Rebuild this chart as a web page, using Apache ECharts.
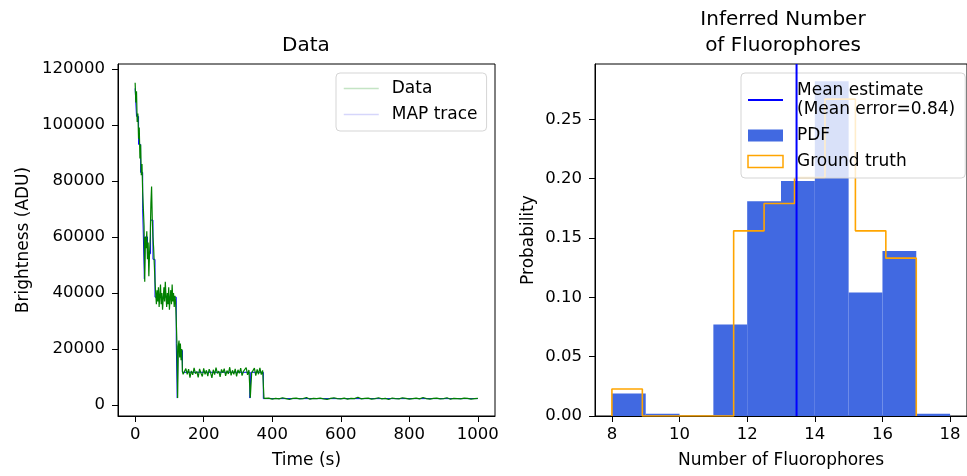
<!DOCTYPE html>
<html>
<head>
<meta charset="utf-8">
<script src="https://cdn.jsdelivr.net/npm/echarts@6/dist/echarts.min.js"></script>
<style>
  html, body { margin: 0; padding: 0; background: #fff; }
  #chart { width: 967px; height: 476px; }
</style>
</head>
<body>
<div id="chart"></div>
<script>
// brightness trace (ADU)
// t = 0..140 s, every 2 s
const traceEarly = [115000, 108000, 112000, 101000, 104000, 95000, 99000, 88000, 93000, 82000,
  86000, 76000, 70000, 64000, 44000, 60000, 56000, 62000, 52000, 58000,
  46000, 54000, 60000, 72000, 78000, 66000, 60000, 56000, 50000, 44000,
  40000, 36000, 41000, 37000, 42000, 35000, 39000, 43000, 36000, 40000,
  34000, 38000, 42000, 37000, 44000, 39000, 35000, 40000, 36000, 42000,
  34000, 38000, 41000, 36000, 43000, 37000, 40000, 35000, 39000, 37000,
  30000, 22000, 2500, 21000, 23000, 17000, 22000, 16000, 20000, 12000, 11000];
// t = 144..376 s, every 4 s
const tracePlateau = [10500, 13000, 11000, 12800, 9800, 12200, 10800, 13300, 11200, 12000,
  9900, 12900, 11400, 10200, 13100, 11000, 12400, 10300, 12800, 11600,
  9700, 12600, 10900, 13400, 11300, 12100, 10100, 12700, 11500, 13000,
  10400, 12300, 11100, 13500, 10600, 12400, 11000, 12900, 10200, 12600,
  11300, 13200, 10500, 12000, 11700, 13400, 10800, 12500, 2600, 11500,
  11800, 13200, 10500, 12700, 11000, 13300, 10900, 12400, 2400];
// t = 380..1000 s, every 10 s
const traceTail = [2300, 2500, 2100, 2400, 2200, 2600, 2300, 2000, 2400, 2500,
  2200, 2300, 2700, 2100, 2400, 2300, 2500, 2200, 2000, 2400,
  2600, 2300, 2200, 2500, 2100, 2400, 2300, 2800, 2200, 2400,
  2500, 2100, 2300, 2600, 2200, 2400, 2000, 2500, 2300, 2200,
  2600, 2400, 2100, 2300, 2500, 2200, 2700, 2300, 2100, 2400,
  2500, 2200, 2300, 2600, 2100, 2400, 2300, 2200, 2500, 2400,
  2100, 2300, 2400];

// MAP step trace
const mapTimes = [0, 4, 10, 16, 22, 27, 29, 36, 45, 52, 58, 120, 123, 125, 138, 335, 338, 374, 1000];
const mapLevels = [113000, 103000, 93000, 83000, 70000, 45000, 60000, 54000, 66000, 52000, 38500,
  22000, 2500, 19500, 11700, 2500, 11700, 2300, 2300];

// histogram of inferred number of fluorophores
const pdfEdges = [8, 9, 10, 11, 12, 13, 14, 15, 16, 17, 18];
const pdfHeights = [0.019, 0.002, 0, 0.077, 0.181, 0.198, 0.282, 0.104, 0.139, 0.002];
const truthEdges = [8, 8.9, 9.8, 10.7, 11.6, 12.5, 13.4, 14.3, 15.2, 16.1, 17];
const truthHeights = [0.0227, 0, 0, 0, 0.156, 0.179, 0.201, 0.267, 0.156, 0.133];
const meanEstimate = 13.46;

// ticks
const timeTicks = [0, 200, 400, 600, 800, 1000];
const brightTicks = [0, 20000, 40000, 60000, 80000, 100000, 120000];
const countTicks = [8, 10, 12, 14, 16, 18];
const probTicks = [0, 0.05, 0.1, 0.15, 0.2, 0.25];

const FONT = "DejaVu Sans";

// build trace points
const traceData = [];
traceEarly.forEach((v, i) => traceData.push([i * 2, v]));
tracePlateau.forEach((v, i) => traceData.push([144 + i * 4, v]));
traceTail.forEach((v, i) => traceData.push([380 + i * 10, v]));
const mapData = mapTimes.map((t, i) => [t, mapLevels[i]]);

const pdfData = pdfHeights.map((h, i) => [pdfEdges[i], pdfEdges[i + 1], h]);
const truthLine = [[truthEdges[0], 0]];
truthHeights.forEach((h, i) => {
  truthLine.push([truthEdges[i], h]);
  truthLine.push([truthEdges[i + 1], h]);
});
truthLine.push([truthEdges[truthEdges.length - 1], 0]);
const probMax = 0.2966;

const plain = (v) => String(v);

function axisX(gridIndex, min, max, name, ticks) {
  return {
    gridIndex, type: "value", min, max, name,
    nameLocation: "middle", nameGap: 36,
    nameTextStyle: { fontFamily: FONT, fontSize: 17, color: "#000" },
    axisLine: { show: true, onZero: false, lineStyle: { color: "#000", width: 1 } },
    axisTick: { show: true, length: 6, customValues: ticks, lineStyle: { color: "#000", width: 1 } },
    axisLabel: { customValues: ticks, margin: 10, fontFamily: FONT, fontSize: 16.5, color: "#000", formatter: plain },
    splitLine: { show: false },
  };
}
function axisY(gridIndex, min, max, name, ticks, gap, fmt) {
  return {
    gridIndex, type: "value", min, max, name,
    nameLocation: "middle", nameGap: gap,
    nameTextStyle: { fontFamily: FONT, fontSize: 17, color: "#000" },
    axisLine: { show: true, onZero: false, lineStyle: { color: "#000", width: 1 } },
    axisTick: { show: true, length: 6, customValues: ticks, lineStyle: { color: "#000", width: 1 } },
    axisLabel: { customValues: ticks, margin: 13, fontFamily: FONT, fontSize: 16.5, color: "#000", formatter: fmt },
    splitLine: { show: false },
  };
}

const legendText = { fontFamily: FONT, fontSize: 17, color: "#000", lineHeight: 19 };

const option = {
  animation: false,
  backgroundColor: "#fff",
  graphic: [
    { type: "text", x: 306, y: 46, style: { text: "Data", fontFamily: FONT, fontSize: 20, fill: "#000", textAlign: "center", textVerticalAlign: "middle" } },
    { type: "text", x: 783, y: 33, style: { text: "Inferred Number\nof Fluorophores", fontFamily: FONT, fontSize: 20, lineHeight: 26, fill: "#000", textAlign: "center", textVerticalAlign: "middle" } },
  ],
  grid: [
    { left: 118, top: 64, width: 377, height: 352, show: true, borderColor: "#000", borderWidth: 1 },
    { left: 595, top: 64, width: 377, height: 352, show: true, borderColor: "#000", borderWidth: 1 },
  ],
  xAxis: [
    axisX(0, -50, 1050, "Time (s)", timeTicks),
    axisX(1, 7.5, 18.5, "Number of Fluorophores", countTicks),
  ],
  yAxis: [
    axisY(0, -3900, 121700, "Brightness (ADU)", brightTicks, 86, plain),
    axisY(1, 0, probMax, "Probability", probTicks, 58, (v) => v.toFixed(2)),
  ],
  legend: [
    {
      orient: "vertical", left: 336, top: 73, padding: [6, 9, 7, 7],
      itemWidth: 35, itemHeight: 12, itemGap: 7, selectedMode: false,
      backgroundColor: "rgba(255,255,255,0.8)", borderColor: "#d5d5d5", borderWidth: 1, borderRadius: 4,
      textStyle: Object.assign({ padding: [0, 0, 0, 8] }, legendText),
      data: [
        { name: "Data", lineStyle: { color: "#c4e4c4", width: 1.5 }, itemStyle: { color: "rgba(0,0,0,0)", borderWidth: 0 } },
        { name: "MAP trace", lineStyle: { color: "#d6d6fb", width: 1.5 }, itemStyle: { color: "rgba(0,0,0,0)", borderWidth: 0 } },
      ],
    },
    {
      orient: "vertical", left: 741, top: 73, padding: [8, 10, 7, 6],
      itemWidth: 35, itemHeight: 12, itemGap: 7, selectedMode: false,
      backgroundColor: "rgba(255,255,255,0.8)", borderColor: "#d5d5d5", borderWidth: 1, borderRadius: 4,
      textStyle: Object.assign({ padding: [0, 0, 0, 9] }, legendText),
      data: [
        { name: "Mean estimate\n(Mean error=0.84)", lineStyle: { color: "#0000ff", width: 2 }, itemStyle: { color: "rgba(0,0,0,0)", borderWidth: 0 } },
        { name: "PDF", icon: "rect", itemStyle: { color: "#4169e1" } },
        { name: "Ground truth", icon: "rect", itemStyle: { color: "rgba(255,255,255,0)", borderColor: "#ffa500", borderWidth: 1.5 } },
      ],
    },
  ],
  series: [
    {
      name: "MAP trace", type: "line", xAxisIndex: 0, yAxisIndex: 0,
      data: mapData, step: "end", symbol: "none", z: 2,
      lineStyle: { color: "#0000ff", width: 1 }, itemStyle: { color: "#0000ff" },
    },
    {
      name: "Data", type: "line", xAxisIndex: 0, yAxisIndex: 0,
      data: traceData, symbol: "none", z: 3,
      lineStyle: { color: "#008000", width: 1.2 }, itemStyle: { color: "#008000" },
    },
    {
      name: "PDF", type: "custom", xAxisIndex: 1, yAxisIndex: 1, z: 2,
      data: pdfData,
      encode: { x: [0, 1], y: 2 },
      itemStyle: { color: "#4169e1" },
      renderItem: (params, api) => {
        const p0 = api.coord([api.value(0), api.value(2)]);
        const p1 = api.coord([api.value(1), 0]);
        return {
          type: "rect",
          shape: { x: p0[0], y: p0[1], width: p1[0] - p0[0], height: p1[1] - p0[1] },
          style: { fill: "#4169e1" },
        };
      },
    },
    {
      name: "Ground truth", type: "line", xAxisIndex: 1, yAxisIndex: 1, z: 3,
      data: truthLine, symbol: "none",
      lineStyle: { color: "#ffa500", width: 1.6 }, itemStyle: { color: "#ffa500" },
    },
    {
      name: "Mean estimate\n(Mean error=0.84)", type: "line", xAxisIndex: 1, yAxisIndex: 1, z: 4,
      data: [[meanEstimate, 0], [meanEstimate, probMax]], symbol: "none",
      lineStyle: { color: "#0000ff", width: 2 }, itemStyle: { color: "#0000ff" },
    },
  ],
};

const myChart = echarts.init(document.getElementById("chart"));
myChart.setOption(option);
</script>
</body>
</html>
